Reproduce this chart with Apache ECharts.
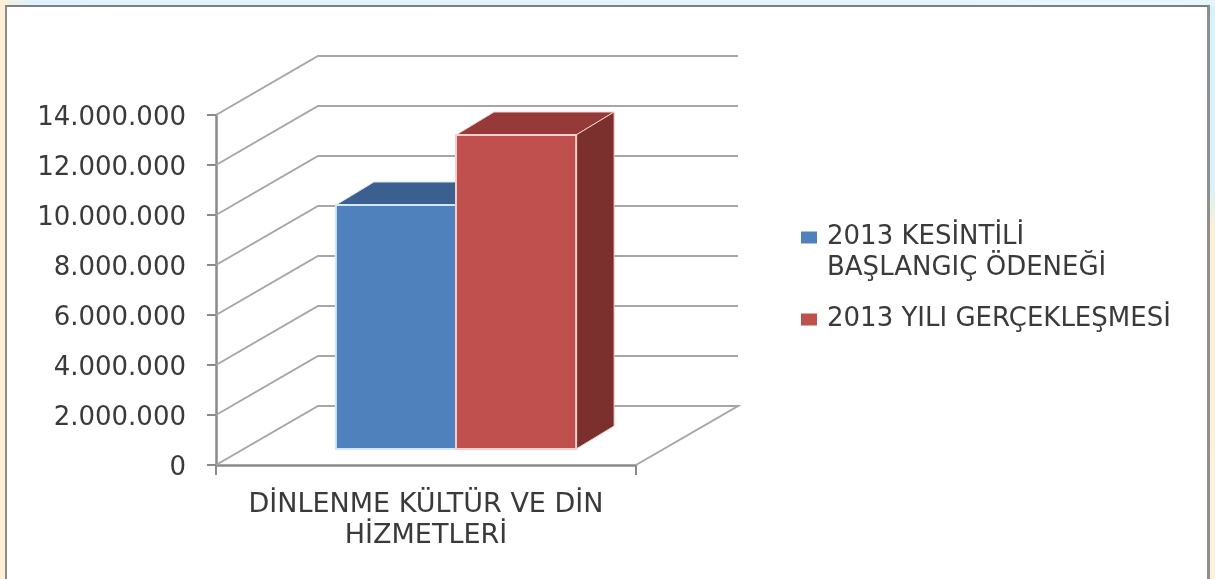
<!DOCTYPE html>
<html>
<head>
<meta charset="utf-8">
<style>
  html, body { margin: 0; padding: 0; width: 1215px; height: 579px; overflow: hidden; }
  body { background: linear-gradient(to bottom, #d4f3f8 0, #d9f3f8 190px, #fbefd6 225px, #fcf2da 100%); position: relative; }
  .top-strip { position: absolute; left: 0; top: 0; width: 1215px; height: 6px;
    background: linear-gradient(to right, #fbf1d8 0, #def3fb 30px, #e6f7fc 100%); }
  .left-strip { position: absolute; left: 0; top: 0; width: 5px; height: 579px; background: #fcf1d7; }
  #main { position: absolute; left: 5px; top: 5px; width: 1205px; height: 574px;
    box-sizing: border-box; background: #fff; border-left: 2px solid #8b8b8b; border-top: 2px solid #7f7f7f; border-right: 3px solid #8f8f8f; }
</style>
</head>
<body>
<div class="top-strip"></div>
<div class="left-strip"></div>
<div id="main"></div>
<script src="https://cdn.jsdelivr.net/npm/echarts@6/dist/echarts.min.js"></script>
<script>
var categories = ['DİNLENME KÜLTÜR VE DİN\nHİZMETLERİ'];
var seriesNames = ['2013 KESİNTİLİ BAŞLANGIÇ ÖDENEĞİ', '2013 YILI GERÇEKLEŞMESİ'];
var budgetValues = [9760000];
var actualValues = [12560000];
var yTicks = [0, 2000000, 4000000, 6000000, 8000000, 10000000, 12000000, 14000000];

// perspective of the walls, pixels
var wallDx = 102, wallDy = -59;
var barShiftX = 30, barShiftY = -16, barDx = 38, barDy = -23;
var barRatio = 0.286;

var textColor = '#3a3a3a';
var fontName = 'DejaVu Sans';

function dotted(v) {
  return '{t|' + String(v).replace(/\B(?=(\d{3})+$)/g, '.') + '}';
}

function renderWalls(params, api) {
  var v = api.value(0);
  var start = api.coord([0, v]);
  var band = api.size([1, 0])[0];
  var x0 = start[0] - band / 2, y = start[1];
  var style = { stroke: '#a6a6a6', lineWidth: 2, fill: null };
  var pts = [[x0, y], [x0 + wallDx, y + wallDy], [x0 + band + wallDx, y + wallDy]];
  if (v === 0) {
    pts.push([x0 + band, y]);
  }
  return { type: 'polyline', shape: { points: pts }, style: style, silent: true };
}

function makeBarRender(side, front, top, right, edge) {
  return function (params, api) {
    var p = api.coord([api.value(0), api.value(1)]);
    var base = api.coord([api.value(0), 0]);
    var band = api.size([1, 0])[0];
    var w = band * barRatio;
    var xl = p[0] + barShiftX + (side < 0 ? -w : 0);
    var xr = xl + w;
    var yt = p[1] + barShiftY;
    var yb = base[1] + barShiftY;
    return {
      type: 'group',
      silent: true,
      children: [
        { type: 'polygon', shape: { points: [[xl, yt], [xl + barDx, yt + barDy], [xr + barDx, yt + barDy], [xr, yt]] },
          style: { fill: top, stroke: edge, lineWidth: 1 } },
        { type: 'polygon', shape: { points: [[xr, yt], [xr + barDx, yt + barDy], [xr + barDx, yb + barDy], [xr, yb]] },
          style: { fill: right, stroke: edge, lineWidth: 1 } },
        { type: 'rect', shape: { x: xl, y: yt, width: w, height: yb - yt },
          style: { fill: front, stroke: edge, lineWidth: 2 } }
      ]
    };
  };
}

var chart = echarts.init(document.getElementById('main'));
chart.setOption({
  animation: false,
  grid: { left: 209, right: 571, top: 108, bottom: 114 },
  xAxis: {
    type: 'category',
    data: categories,
    axisLine: { lineStyle: { color: '#8a8a8a', width: 2.5 } },
    axisTick: { show: true, length: 10, lineStyle: { color: '#8a8a8a', width: 2 } },
    axisLabel: { color: textColor, fontFamily: fontName, fontSize: 27, lineHeight: 31, margin: 24 }
  },
  yAxis: {
    type: 'value',
    min: 0,
    max: 14000000,
    interval: 2000000,
    splitLine: { show: false },
    axisLine: { show: true, lineStyle: { color: '#8a8a8a', width: 2.5 } },
    axisTick: { show: true, length: 9, lineStyle: { color: '#8a8a8a', width: 2 } },
    axisLabel: {
      margin: 30,
      formatter: dotted,
      rich: { t: { color: textColor, fontFamily: fontName, fontSize: 26, padding: [7, 0, 0, 0] } }
    }
  },
  legend: [
    {
      data: [seriesNames[0]],
      left: 789, top: 179,
      selectedMode: false,
      itemWidth: 16, itemHeight: 12, icon: 'rect',
      textStyle: { color: textColor, fontFamily: fontName, fontSize: 26, lineHeight: 31, padding: [0, 0, 0, 5] },
      formatter: function () { return ' \n2013 KESİNTİLİ\nBAŞLANGIÇ ÖDENEĞİ'; }
    },
    {
      data: [seriesNames[1]],
      left: 789, top: 292,
      selectedMode: false,
      itemWidth: 16, itemHeight: 12, icon: 'rect',
      textStyle: { color: textColor, fontFamily: fontName, fontSize: 26, lineHeight: 31, padding: [0, 0, 0, 5] }
    }
  ],
  series: [
    {
      type: 'custom',
      name: 'walls',
      data: yTicks.map(function (v) { return [v]; }),
      encode: { y: 0 },
      renderItem: renderWalls,
      z: 1
    },
    {
      type: 'custom',
      name: seriesNames[0],
      data: budgetValues.map(function (v, i) { return [i, v]; }),
      encode: { x: 0, y: 1 },
      itemStyle: { color: '#4f81bd' },
      renderItem: makeBarRender(-1, '#4f81bd', '#3b5f8e', '#2f4d74', '#d5e6f6'),
      z: 2
    },
    {
      type: 'custom',
      name: seriesNames[1],
      data: actualValues.map(function (v, i) { return [i, v]; }),
      encode: { x: 0, y: 1 },
      itemStyle: { color: '#c0504d' },
      renderItem: makeBarRender(1, '#c0504d', '#953a38', '#7c302d', '#f3cfcd'),
      z: 3
    }
  ]
});
</script>
</body>
</html>
